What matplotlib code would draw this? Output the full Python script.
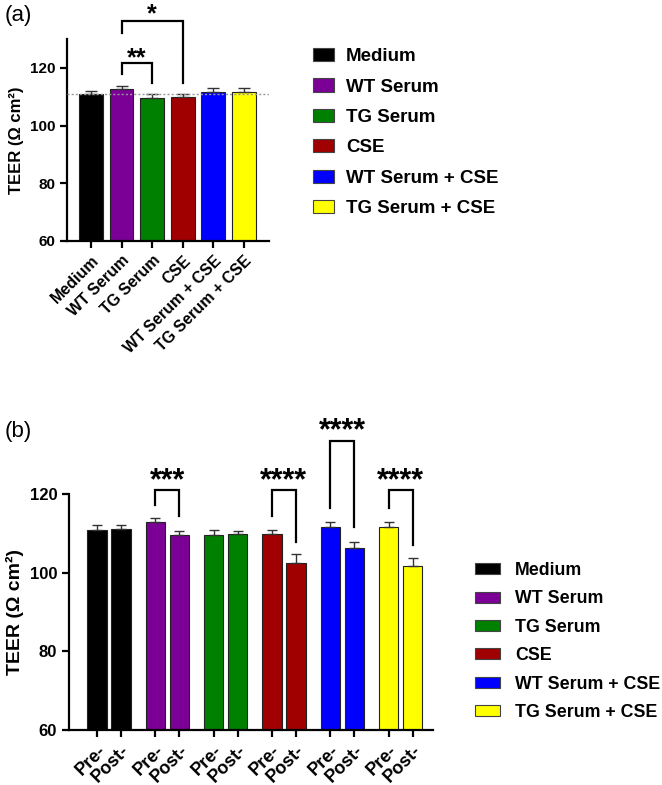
import numpy as np
import matplotlib
matplotlib.use('Agg')
import matplotlib.pyplot as plt
from matplotlib.patches import Patch

plt.rcParams['font.family'] = ['Liberation Sans', 'DejaVu Sans']
plt.rcParams['font.weight'] = 'bold'

# data
groups = ['Medium', 'WT Serum', 'TG Serum', 'CSE', 'WT Serum + CSE', 'TG Serum + CSE']
colors = ['#000000', '#7a0096', '#008000', '#a00000', '#0000ff', '#ffff00']
pre_mean = [110.9, 112.8, 109.5, 109.9, 111.6, 111.6]
pre_err = [1.1, 1.0, 1.3, 1.0, 1.3, 1.3]
post_mean = [111.2, 109.5, 109.8, 102.5, 106.2, 101.6]
post_err = [1.0, 1.2, 0.9, 2.2, 1.5, 2.1]
stage_labels = ['Pre-', 'Post-']

# significance brackets: (bar a, bar b, top, left end, right end, label, label y)
sig_a = [(1, 2, 121.8, 117.8, 114.6, '**', 125.6),
         (1, 3, 136.2, 132.2, 114.6, '*', 140.7)]
# (group, top, left end, right end, label, label y)
sig_b = [(1, 120.9, 117.3, 114.3, '***', 125.3),
         (3, 120.9, 114.5, 107.9, '****', 125.3),
         (4, 133.6, 116.4, 111.5, '****', 138.0),
         (5, 120.9, 116.4, 107.1, '****', 125.3)]

W, H = 662, 785
fig = plt.figure(figsize=(W / 100, H / 100), dpi=100)


def style_axes(ax, lw=1.6):
    ax.spines['top'].set_visible(False)
    ax.spines['right'].set_visible(False)
    ax.spines['left'].set_linewidth(lw)
    ax.spines['bottom'].set_linewidth(lw)
    ax.tick_params(direction='out', length=5, width=lw)


def bracket(ax, x1, x2, top, y1, y2, text, ty, fs):
    ax.plot([x1, x1, x2, x2], [y1, top, top, y2], color='black', lw=1.6,
            clip_on=False, solid_joinstyle='miter')
    ax.annotate(text, (0.5 * (x1 + x2), ty), xytext=(0, -0.53 * fs),
                textcoords='offset points', ha='center', va='baseline',
                fontsize=fs, fontweight='bold', annotation_clip=False)


# ---- panel (a)
ax1 = fig.add_axes([67 / W, 1 - 241 / H, (269 - 67) / W, (241 - 39) / H])
x = np.arange(len(groups))
ax1.bar(x, pre_mean, width=0.78, color=colors, edgecolor='#222222', linewidth=0.8,
        bottom=0, zorder=2)
ax1.errorbar(x, pre_mean, yerr=[np.zeros(len(x)), pre_err], fmt='none',
             ecolor='#333333', elinewidth=1, capsize=4, capthick=1, zorder=3)
ax1.axhline(pre_mean[0], color='#999999', ls=(0, (1.5, 1.5)), lw=1, zorder=4)
ax1.set_xlim(-0.784, 5.82)
ax1.set_ylim(60, 130)
ax1.set_yticks([60, 80, 100, 120])
ax1.set_xticks(x)
ax1.set_xticklabels(groups, rotation=45, ha='right', rotation_mode='anchor',
                    fontsize=11.5, fontweight='bold')
ax1.tick_params(axis='y', labelsize=11)
ax1.set_ylabel('TEER (Ω cm²)', fontsize=12, fontweight='bold', labelpad=4)
style_axes(ax1)
for a, b, top, y1, y2, t, ty in sig_a:
    bracket(ax1, x[a], x[b], top, y1, y2, t, ty, 18)

fig.legend([Patch(facecolor=c, edgecolor='#444444', lw=0.8) for c in colors], groups,
           loc='upper left', bbox_to_anchor=(313 / W, 1 - 48 / H), frameon=False,
           handlelength=1.12, handleheight=0.7, handletextpad=0.65,
           labelspacing=0.71, borderpad=0, borderaxespad=0,
           prop={'weight': 'bold', 'size': 13.5})

fig.text(5 / W, 1 - 15 / H, '(a)', fontsize=16, fontweight='normal', va='center', ha='left')

# ---- panel (b)
ax2 = fig.add_axes([69 / W, 1 - 730 / H, (433 - 69) / W, (730 - 494) / H])
g = np.arange(len(groups))
off = 0.206
bw = 0.33
ax2.bar(g - off, pre_mean, width=bw, color=colors, edgecolor='#222222', linewidth=0.8, zorder=2)
ax2.bar(g + off, post_mean, width=bw, color=colors, edgecolor='#222222', linewidth=0.8, zorder=2)
ax2.errorbar(g - off, pre_mean, yerr=[np.zeros(len(g)), pre_err], fmt='none',
             ecolor='#333333', elinewidth=1, capsize=3.5, capthick=1, zorder=3)
ax2.errorbar(g + off, post_mean, yerr=[np.zeros(len(g)), post_err], fmt='none',
             ecolor='#333333', elinewidth=1, capsize=3.5, capthick=1, zorder=3)
ax2.set_xlim(-0.686, 5.557)
ax2.set_ylim(60, 120)
ax2.set_yticks([60, 80, 100, 120])
xt = np.ravel(np.column_stack([g - off, g + off]))
ax2.set_xticks(xt)
ax2.set_xticklabels(stage_labels * len(groups), rotation=45, ha='right',
                    rotation_mode='anchor', fontsize=13, fontweight='bold')
ax2.tick_params(axis='y', labelsize=12)
ax2.set_ylabel('TEER (Ω cm²)', fontsize=14, fontweight='bold', labelpad=4)
style_axes(ax2)
for gi, top, y1, y2, t, ty in sig_b:
    bracket(ax2, g[gi] - off, g[gi] + off, top, y1, y2, t, ty, 22)

fig.legend([Patch(facecolor=c, edgecolor='#444444', lw=0.8) for c in colors], groups,
           loc='upper left', bbox_to_anchor=(475 / W, 1 - 562 / H), frameon=False,
           handlelength=1.4, handleheight=0.56, handletextpad=0.84,
           labelspacing=0.64, borderpad=0, borderaxespad=0,
           prop={'weight': 'bold', 'size': 12.8})

fig.text(5 / W, 1 - 431 / H, '(b)', fontsize=16, fontweight='normal', va='center', ha='left')

fig.savefig('out.png', dpi=100)
